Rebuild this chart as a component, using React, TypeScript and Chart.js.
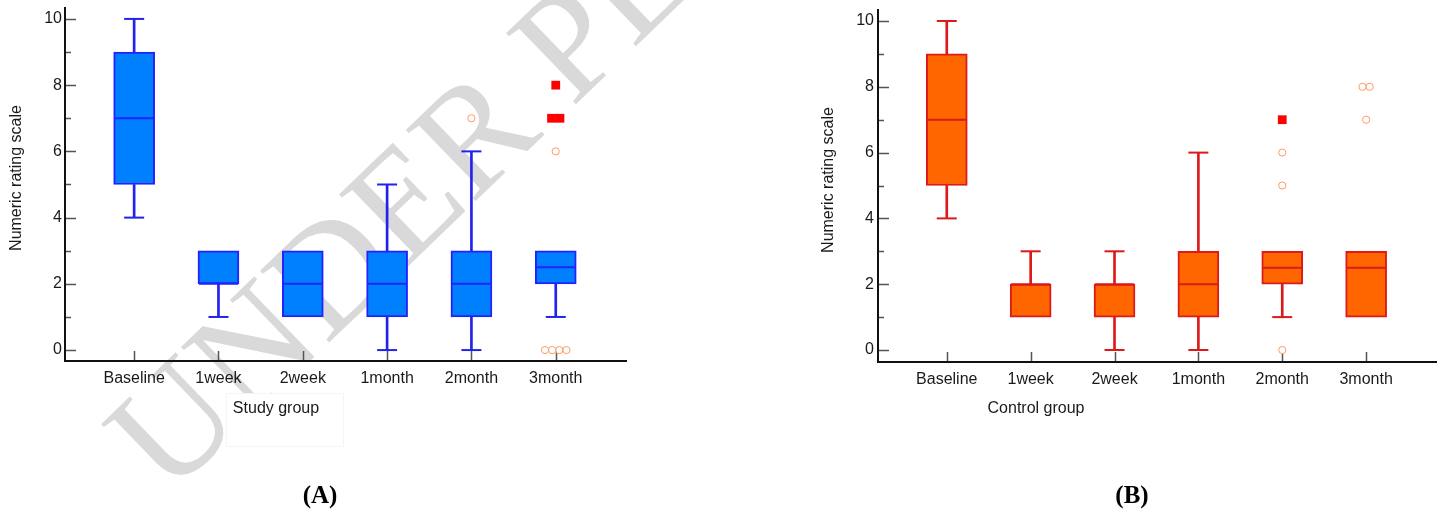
import React, { useEffect, useRef } from 'react';
import { Chart, registerables } from 'chart.js';

Chart.register(...registerables);

// ---------- data ----------
const categories = ['Baseline', '1week', '2week', '1month', '2month', '3month'];
const yTickValues = [0, 2, 4, 6, 8, 10];
const yMinorValues = [1, 3, 5, 7, 9];

// Study group (A)
const studyMin = [4, 1, 1, 0, 0, 1];
const studyQ1 = [5, 2, 1, 1, 1, 2];
const studyMedian = [7, 2, 2, 2, 2, 2.5];
const studyQ3 = [9, 3, 3, 3, 3, 3];
const studyMax = [10, 3, 3, 5, 6, 3];
const studyOutsideCat = [4, 5, 5, 5, 5, 5];
const studyOutsideVal = [7, 6, 0, 0, 0, 0];
const studyFarCat = [5, 5, 5];
const studyFarVal = [8, 7, 7];

// Control group (B)
const controlMin = [4, 1, 0, 0, 1, 1];
const controlQ1 = [5, 1, 1, 1, 2, 1];
const controlMedian = [7, 2, 2, 2, 2.5, 2.5];
const controlQ3 = [9, 2, 2, 3, 3, 3];
const controlMax = [10, 3, 3, 6, 3, 3];
const controlOutsideCat = [4, 4, 4, 5, 5, 5];
const controlOutsideVal = [6, 5, 0, 8, 8, 7];
const controlFarCat = [4];
const controlFarVal = [7];

const SANS = '"Liberation Sans", Arial, sans-serif';
const SERIF = '"Liberation Serif", "Times New Roman", serif';

function spread(cats: number[], vals: number[], step: number) {
  return cats.map((c, i) => {
    const same = cats.map((_, j) => j).filter((j) => cats[j] === c && vals[j] === vals[i]);
    const k = same.indexOf(i);
    const n = same.length;
    return { x: c + (k - (n - 1) / 2) * step, y: vals[i] };
  });
}

type Panel = {
  mins: number[]; q1s: number[]; medians: number[]; q3s: number[]; maxs: number[];
  outsideCat: number[]; outsideVal: number[]; farCat: number[]; farVal: number[];
  boxFill: string; boxBorder: string; whisker: string;
  xTitle: string; xTitleX: number; yTitleX: number; yTitleY: number;
  label: string; labelX: number;
  yMin: number; yMax: number; padTop: number; padRight: number;
  yWidth: number; xHeight: number; yTickPad: number;
  watermark: boolean;
};

const panelA: Panel = {
  mins: studyMin, q1s: studyQ1, medians: studyMedian, q3s: studyQ3, maxs: studyMax,
  outsideCat: studyOutsideCat, outsideVal: studyOutsideVal, farCat: studyFarCat, farVal: studyFarVal,
  boxFill: '#0080ff', boxBorder: '#2222ff', whisker: '#2222ee',
  xTitle: 'Study group', xTitleX: 276, yTitleX: 17, yTitleY: 178,
  label: '(A)', labelX: 320,
  yMin: -0.33, yMax: 10.36, padTop: 7, padRight: 95, yWidth: 65, xHeight: 151, yTickPad: 3,
  watermark: true,
};

const panelB: Panel = {
  mins: controlMin, q1s: controlQ1, medians: controlMedian, q3s: controlQ3, maxs: controlMax,
  outsideCat: controlOutsideCat, outsideVal: controlOutsideVal, farCat: controlFarCat, farVal: controlFarVal,
  boxFill: '#ff6600', boxBorder: '#dd1a1a', whisker: '#dd1a1a',
  xTitle: 'Control group', xTitleX: 314, yTitleX: 107, yTitleY: 180,
  label: '(B)', labelX: 410,
  yMin: -0.365, yMax: 10.365, padTop: 9, padRight: 7, yWidth: 156, xHeight: 150, yTickPad: 4,
  watermark: false,
};

function makeDecor(p: Panel) {
  return {
    id: 'decor',
    beforeDraw(chart: any) {
      const ctx = chart.ctx;
      ctx.save();
      ctx.fillStyle = '#ffffff';
      ctx.fillRect(0, 0, chart.width, chart.height);
      if (p.watermark) {
        ctx.save();
        ctx.translate(168, 498);
        ctx.rotate((-44 * Math.PI) / 180);
        ctx.font = '152px ' + SERIF;
        ctx.fillStyle = '#d9d9d9';
        ctx.textBaseline = 'alphabetic';
        ctx.fillText('UNDER PEER REVIEW', 0, 0);
        ctx.restore();
        ctx.fillStyle = '#ffffff';
        ctx.fillRect(226, 393, 118, 54);
        ctx.strokeStyle = '#f5f5f5';
        ctx.lineWidth = 1;
        ctx.strokeRect(226.5, 393.5, 117, 53);
      }
      ctx.restore();
    },
    beforeDatasetsDraw(chart: any) {
      const { ctx, chartArea: a, scales } = chart;
      const x = scales.x;
      const y = scales.y;
      ctx.save();
      ctx.strokeStyle = '#555555';
      ctx.lineWidth = 1.5;
      ctx.beginPath();
      yTickValues.forEach((v) => {
        const py = Math.round(y.getPixelForValue(v)) + 0.5;
        ctx.moveTo(a.left, py);
        ctx.lineTo(a.left + 11, py);
      });
      yMinorValues.forEach((v) => {
        const py = Math.round(y.getPixelForValue(v)) + 0.5;
        ctx.moveTo(a.left, py);
        ctx.lineTo(a.left + 6, py);
      });
      categories.forEach((_, i) => {
        const px = Math.round(x.getPixelForValue(i)) + 0.5;
        ctx.moveTo(px, a.bottom);
        ctx.lineTo(px, a.bottom - 10);
      });
      ctx.stroke();
      ctx.restore();
    },
    afterDraw(chart: any) {
      const { ctx, chartArea: a } = chart;
      ctx.save();
      ctx.strokeStyle = '#111111';
      ctx.lineWidth = 2;
      ctx.beginPath();
      ctx.moveTo(a.left, a.top);
      ctx.lineTo(a.left, a.bottom);
      ctx.lineTo(a.right, a.bottom);
      ctx.stroke();

      ctx.fillStyle = '#1a1a1a';
      ctx.font = '16px ' + SANS;
      ctx.textAlign = 'center';
      ctx.textBaseline = 'middle';
      ctx.fillText(p.xTitle, p.xTitleX, 409);

      ctx.save();
      ctx.translate(p.yTitleX, p.yTitleY);
      ctx.rotate(-Math.PI / 2);
      ctx.fillText('Numeric rating scale', 0, 0);
      ctx.restore();

      ctx.fillStyle = '#000000';
      ctx.font = 'bold 25px ' + SERIF;
      ctx.fillText(p.label, p.labelX, 497);
      ctx.restore();
    },
  };
}

function zeroPadding(scale: any) {
  scale.paddingLeft = 0;
  scale.paddingRight = 0;
  scale.paddingTop = 0;
  scale.paddingBottom = 0;
}

function buildConfig(p: Panel): any {
  const idx = categories.map((_, i) => i);
  const whiskers = [
    ...idx.filter((i) => p.maxs[i] > p.q3s[i]).map((i) => ({ x: i, y: [p.q3s[i], p.maxs[i]] })),
    ...idx.filter((i) => p.mins[i] < p.q1s[i]).map((i) => ({ x: i, y: [p.mins[i], p.q1s[i]] })),
  ];
  const boxes = idx.map((i) => ({ x: i, y: [p.q1s[i], p.q3s[i]] }));
  const medians = idx.map((i) => ({ x: i, y: p.medians[i] }));
  const caps = [
    ...idx.filter((i) => p.maxs[i] > p.q3s[i]).map((i) => ({ x: i, y: p.maxs[i] })),
    ...idx.filter((i) => p.mins[i] < p.q1s[i]).map((i) => ({ x: i, y: p.mins[i] })),
  ];
  const outside = spread(p.outsideCat, p.outsideVal, 0.085);
  const far = spread(p.farCat, p.farVal, 0.1);

  return {
    type: 'bar',
    data: {
      datasets: [
        {
          type: 'bar', label: 'whisker', data: whiskers, grouped: false, barThickness: 2,
          backgroundColor: p.whisker, borderWidth: 0, order: 6,
        },
        {
          type: 'bar', label: 'box', data: boxes, grouped: false, barThickness: 41,
          backgroundColor: p.boxFill, borderColor: p.boxBorder, borderWidth: 2, borderSkipped: false, order: 5,
        },
        {
          type: 'scatter', label: 'median', data: medians, showLine: false,
          pointStyle: 'line', pointRadius: 19.5, pointBorderColor: p.boxBorder, pointBorderWidth: 2, order: 4,
        },
        {
          type: 'scatter', label: 'caps', data: caps, showLine: false,
          pointStyle: 'line', pointRadius: 10, pointBorderColor: p.whisker, pointBorderWidth: 2, order: 3,
        },
        {
          type: 'scatter', label: 'outside', data: outside, showLine: false,
          pointStyle: 'circle', pointRadius: 3.6, pointBorderColor: '#ff9a66', pointBackgroundColor: '#ffffff',
          pointBorderWidth: 1, order: 2,
        },
        {
          type: 'scatter', label: 'far out', data: far, showLine: false,
          pointStyle: 'rect', pointRadius: 6.2, pointBorderColor: '#ff0000', pointBackgroundColor: '#ff0000',
          pointBorderWidth: 0, order: 1,
        },
      ],
    },
    options: {
      responsive: false,
      maintainAspectRatio: false,
      devicePixelRatio: 1,
      animation: false,
      events: [],
      layout: { autoPadding: false, padding: { top: p.padTop, right: p.padRight, bottom: 0, left: 0 } },
      plugins: { legend: { display: false }, tooltip: { enabled: false }, title: { display: false } },
      scales: {
        x: {
          type: 'linear', min: -0.82, max: 5.845, offset: false,
          grid: { display: false, drawTicks: false }, border: { display: false },
          afterBuildTicks: (axis: any) => { axis.ticks = categories.map((_, i) => ({ value: i })); },
          afterFit: (scale: any) => { scale.height = p.xHeight; zeroPadding(scale); },
          ticks: {
            autoSkip: false, maxRotation: 0, minRotation: 0, padding: 8, color: '#1a1a1a',
            font: { family: SANS, size: 16 },
            callback: (_v: any, i: number) => categories[i],
          },
        },
        y: {
          type: 'linear', min: p.yMin, max: p.yMax,
          grid: { display: false, drawTicks: false }, border: { display: false },
          afterBuildTicks: (axis: any) => { axis.ticks = yTickValues.map((v) => ({ value: v })); },
          afterFit: (scale: any) => { scale.width = p.yWidth; zeroPadding(scale); },
          ticks: {
            padding: p.yTickPad, color: '#1a1a1a', font: { family: SANS, size: 16 },
            callback: (v: any) => String(v),
          },
        },
      },
    },
    plugins: [makeDecor(p)],
  };
}

function BoxPanel({ panel, left }: { panel: Panel; left: number }) {
  const ref = useRef<HTMLCanvasElement | null>(null);
  useEffect(() => {
    if (!ref.current) return;
    const chart = new Chart(ref.current, buildConfig(panel));
    return () => chart.destroy();
  }, [panel]);
  return (
    <canvas
      ref={ref}
      width={722}
      height={512}
      style={{ position: 'absolute', left, top: 0, width: 722, height: 512 }}
    />
  );
}

export default function App() {
  return (
    <div style={{ position: 'fixed', left: 0, top: 0, width: 1444, height: 512, background: '#ffffff', overflow: 'hidden' }}>
      <BoxPanel panel={panelA} left={0} />
      <BoxPanel panel={panelB} left={722} />
    </div>
  );
}
